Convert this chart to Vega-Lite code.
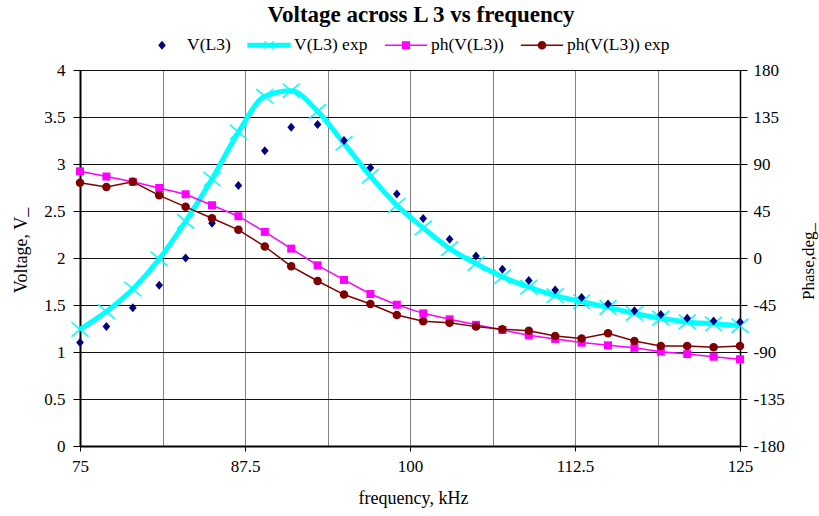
{
  "$schema": "https://vega.github.io/schema/vega-lite/v6.json",
  "width": 660,
  "height": 376,
  "autosize": {"type": "none"},
  "padding": {"left": 80, "top": 70, "right": 79, "bottom": 70},
  "background": "white",
  "config": {
    "font": "Liberation Serif",
    "view": {"stroke": "#707070", "strokeWidth": 1},
    "axis": {
      "labelFont": "Liberation Serif",
      "labelFontSize": 17,
      "labelColor": "black",
      "titleFont": "Liberation Serif",
      "titleFontSize": 17,
      "titleFontWeight": "normal",
      "titleColor": "black",
      "domainColor": "black",
      "tickColor": "black"
    }
  },
  "title": {
    "text": "Voltage across L 3 vs frequency",
    "font": "Liberation Serif",
    "fontSize": 23,
    "fontWeight": "bold",
    "color": "black",
    "anchor": "middle",
    "dx": 11,
    "offset": -6
  },
  "data": {
    "values": [
      {"f": 75, "v": 1.10, "vexp": 1.24, "ph": 83, "phexp": 72},
      {"f": 77, "v": 1.27, "vexp": 1.43, "ph": 78, "phexp": 68},
      {"f": 79, "v": 1.47, "vexp": 1.67, "ph": 73, "phexp": 73},
      {"f": 81, "v": 1.71, "vexp": 1.99, "ph": 67, "phexp": 60},
      {"f": 83, "v": 2.00, "vexp": 2.39, "ph": 61, "phexp": 49},
      {"f": 85, "v": 2.37, "vexp": 2.84, "ph": 50.5, "phexp": 38},
      {"f": 87, "v": 2.77, "vexp": 3.34, "ph": 40, "phexp": 27},
      {"f": 89, "v": 3.14, "vexp": 3.72, "ph": 25, "phexp": 11},
      {"f": 91, "v": 3.39, "vexp": 3.78, "ph": 9, "phexp": -8},
      {"f": 93, "v": 3.42, "vexp": 3.56, "ph": -7, "phexp": -22},
      {"f": 95, "v": 3.25, "vexp": 3.22, "ph": -21, "phexp": -35},
      {"f": 97, "v": 2.96, "vexp": 2.87, "ph": -34.5, "phexp": -44},
      {"f": 99, "v": 2.68, "vexp": 2.56, "ph": -44.7, "phexp": -54.6},
      {"f": 101, "v": 2.42, "vexp": 2.32, "ph": -53, "phexp": -60.6},
      {"f": 103, "v": 2.20, "vexp": 2.10, "ph": -58.7, "phexp": -62},
      {"f": 105, "v": 2.02, "vexp": 1.94, "ph": -64, "phexp": -65.7},
      {"f": 107, "v": 1.88, "vexp": 1.80, "ph": -69, "phexp": -68.3},
      {"f": 109, "v": 1.76, "vexp": 1.69, "ph": -74, "phexp": -69.6},
      {"f": 111, "v": 1.66, "vexp": 1.60, "ph": -77.5, "phexp": -74.6},
      {"f": 113, "v": 1.58, "vexp": 1.535, "ph": -81, "phexp": -77},
      {"f": 115, "v": 1.51, "vexp": 1.475, "ph": -83.6, "phexp": -72},
      {"f": 117, "v": 1.44, "vexp": 1.41, "ph": -86, "phexp": -79.5},
      {"f": 119, "v": 1.40, "vexp": 1.36, "ph": -89.7, "phexp": -84.2},
      {"f": 121, "v": 1.36, "vexp": 1.32, "ph": -92, "phexp": -84.2},
      {"f": 123, "v": 1.33, "vexp": 1.30, "ph": -94.5, "phexp": -85.5},
      {"f": 125, "v": 1.32, "vexp": 1.28, "ph": -97, "phexp": -84.2}
    ]
  },
  "encoding": {
    "x": {
      "field": "f",
      "type": "quantitative",
      "scale": {"domain": [75, 125], "nice": false, "zero": false},
      "title": "frequency, kHz",
      "axis": {
        "values": [75, 81.25, 87.5, 93.75, 100, 106.25, 112.5, 118.75, 125],
        "labelExpr": "datum.value % 12.5 === 0 ? '' + datum.value : ''",
        "labelOverlap": false,
        "labelFlush": false,
        "grid": true,
        "gridColor": "#808080",
        "gridWidth": 1,
        "tickSize": 5,
        "tickOpacity": {"condition": {"test": "datum.value % 12.5 === 0", "value": 1}, "value": 0},
        "domainWidth": 2,
        "labelPadding": 7,
        "titleX": 333,
        "titleY": 52,
        "titleAlign": "center",
        "titleBaseline": "middle",
        "titleFontSize": 18
      }
    }
  },
  "layer": [
    {
      "layer": [
        {
          "mark": {"type": "line", "color": "#00FFFF", "strokeWidth": 5, "interpolate": "monotone"},
          "encoding": {
            "y": {
              "field": "vexp",
              "type": "quantitative",
              "scale": {"domain": [0, 4], "nice": false, "zero": false},
              "title": "Voltage, V_",
              "axis": {
                "values": [0, 0.5, 1, 1.5, 2, 2.5, 3, 3.5, 4],
                "labelExpr": "'' + datum.value",
                "grid": true,
                "gridColor": "#111111",
                "gridWidth": 1,
                "tickSize": 7,
                "labelPadding": 8,
                "domainWidth": 2,
                "titleX": -59,
                "titleY": 180,
                "titleAngle": -90,
                "titleAlign": "center",
                "titleBaseline": "middle",
                "titleFontSize": 18
              }
            }
          }
        },
        {
          "mark": {"type": "point", "shape": "M-1,-0.85L1,0.85M-1,0.85L1,-0.85", "size": 289, "stroke": "#00FFFF", "strokeWidth": 1.5, "filled": false, "opacity": 1},
          "encoding": {
            "y": {"field": "vexp", "type": "quantitative", "title": "Voltage, V_"}
          }
        },
        {
          "mark": {"type": "point", "shape": "M0,-1L0.85,0L0,1L-0.85,0Z", "size": 81, "filled": true, "color": "#000080", "opacity": 1},
          "encoding": {
            "y": {"field": "v", "type": "quantitative", "title": "Voltage, V_"}
          }
        },
        {
          "data": {"values": [{"s": "V(L3)"}, {"s": "V(L3) exp"}, {"s": "ph(V(L3))"}, {"s": "ph(V(L3)) exp"}]},
          "mark": {"type": "point", "filled": true, "opacity": 0},
          "encoding": {
            "color": {
              "field": "s",
              "type": "nominal",
              "scale": {"domain": ["V(L3)", "V(L3) exp", "ph(V(L3))", "ph(V(L3)) exp"], "range": ["#000080", "#00FFFF", "#FF00FF", "#800000"]},
              "legend": {"title": null, "orient": "none", "legendX": 58, "legendY": -49, "direction": "horizontal", "columns": 4, "symbolSize": 2304, "symbolStrokeWidth": 0, "symbolOpacity": 1, "labelFont": "Liberation Serif", "labelFontSize": 17.5, "labelColor": "black", "labelOffset": 1, "columnPadding": 14, "padding": 0, "labelLimit": 0}
            },
            "shape": {
              "field": "s",
              "type": "nominal",
              "scale": {
                "domain": ["V(L3)", "V(L3) exp", "ph(V(L3))", "ph(V(L3)) exp"],
                "range": [
                  "M0,-0.19L0.16,0L0,0.19L-0.16,0Z",
                  "M-0.9,-0.1H0.9V0.1H-0.9Z M-0.23,-0.18L-0.17,-0.18L0.23,0.18L0.17,0.18Z M0.17,-0.18L0.23,-0.18L-0.17,0.18L-0.23,0.18Z",
                  "M-0.88,-0.03H0.88V0.03H-0.88Z M-0.17,-0.17H0.17V0.17H-0.17Z",
                  "M-0.88,-0.03H0.88V0.03H-0.88Z M-0.18,0A0.18,0.18,0,1,1,0.18,0A0.18,0.18,0,1,1,-0.18,0Z"
                ]
              },
              "legend": {"title": null, "orient": "none", "legendX": 58, "legendY": -49, "direction": "horizontal", "columns": 4, "symbolSize": 2304, "symbolStrokeWidth": 0, "symbolOpacity": 1, "labelFont": "Liberation Serif", "labelFontSize": 17.5, "labelColor": "black", "labelOffset": 1, "columnPadding": 14, "padding": 0, "labelLimit": 0}
            }
          }
        }
      ]
    },
    {
      "layer": [
        {
          "mark": {"type": "line", "color": "#FF00FF", "strokeWidth": 1.5},
          "encoding": {
            "y": {
              "field": "ph",
              "type": "quantitative",
              "scale": {"domain": [-180, 180], "nice": false, "zero": false},
              "title": "Phase,deg_",
              "axis": {
                "orient": "right",
                "values": [-180, -135, -90, -45, 0, 45, 90, 135, 180],
                "labelExpr": "'' + datum.value",
                "grid": false,
                "tickSize": 7,
                "labelPadding": 6,
                "domainWidth": 1.5,
                "titleX": 68,
                "titleY": 191,
                "titleAngle": -90,
                "titleAlign": "center",
                "titleBaseline": "middle",
                "titleFontSize": 17
              }
            }
          }
        },
        {
          "mark": {"type": "point", "shape": "square", "size": 64, "filled": true, "color": "#FF00FF", "opacity": 1},
          "encoding": {
            "y": {"field": "ph", "type": "quantitative", "title": "Phase,deg_"}
          }
        },
        {
          "mark": {"type": "line", "color": "#800000", "strokeWidth": 1.5},
          "encoding": {
            "y": {"field": "phexp", "type": "quantitative", "title": "Phase,deg_"}
          }
        },
        {
          "mark": {"type": "point", "shape": "circle", "size": 72, "filled": true, "color": "#800000", "opacity": 1},
          "encoding": {
            "y": {"field": "phexp", "type": "quantitative", "title": "Phase,deg_"}
          }
        }
      ]
    }
  ],
  "resolve": {"scale": {"y": "independent"}}
}
